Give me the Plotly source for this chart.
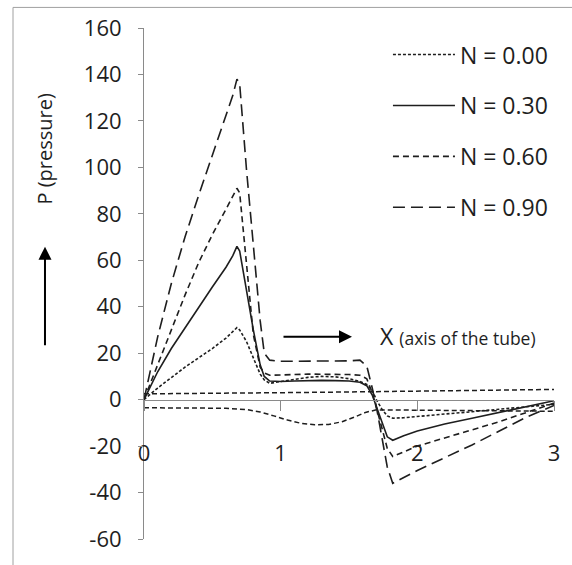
import plotly.graph_objects as go

# ---- data ----
x_pts = [0, 0.1, 0.2, 0.3, 0.4, 0.5, 0.6, 0.65, 0.68, 0.7, 0.75, 0.8, 0.85, 0.88, 0.92,
         1.0, 1.1, 1.2, 1.3, 1.4, 1.5, 1.58, 1.63, 1.67, 1.7, 1.74, 1.78, 1.82, 1.9, 2.0,
         2.2, 2.4, 2.6, 2.8, 3.0]

p_n000 = [0, 5, 9.5, 14, 18, 22, 26.5, 29.5, 31, 30, 25, 18, 11, 8.5, 7,
          7.8, 8.8, 9.6, 10, 9.8, 9, 7.8, 6.5, 4, 0, -4, -7, -8, -7.8, -7.2,
          -6.2, -5.2, -4.2, -3, -2]
p_n030 = [0, 12, 22, 31, 40, 48.5, 57, 62, 66, 64, 47, 30, 15, 10, 8,
          7.8, 8, 8.3, 8.3, 8.2, 8, 7.5, 6, 2, -3, -10, -16, -17.5, -15.5, -13.5,
          -10.5, -8, -5.5, -3, -0.5]
p_n060 = [0, 15, 30, 45, 59, 71, 82, 88, 91, 89, 57, 28, 14, 11.5, 10.5,
          10.5, 10.8, 11, 11, 11, 10.8, 10.5, 9, 3, -3, -12, -21, -24.5, -22.5, -20,
          -16.5, -13, -9.5, -5.5, -1.5]
p_n090 = [0, 27, 50, 70, 88, 105, 122, 131, 138, 136, 99, 67, 34, 20, 17,
          16.5, 16.5, 16.5, 16.5, 16.5, 16.7, 17, 14.5, 5, -3, -16, -29, -36, -33.5, -30.5,
          -25, -19.5, -13.5, -7.5, -2.5]

x_lineA = [0, 0.5, 1.0, 1.5, 2.0, 2.5, 3.0]
y_lineA = [2.5, 2.6, 3.0, 3.3, 3.6, 3.9, 4.4]

x_lineB = [0, 0.3, 0.6, 0.75, 0.85, 0.95, 1.05, 1.15, 1.25, 1.35, 1.45, 1.55, 1.62, 1.7, 2.0, 2.5, 3.0]
y_lineB = [-3.5, -3.5, -3.7, -4.3, -5.3, -7, -8.8, -10.2, -10.8, -10.7, -9.5, -7.3, -5.5, -4.4, -4.6, -4.8, -5]

legend_names = ["N = 0.00", "N = 0.30", "N = 0.60", "N = 0.90"]
x_ticks = [0, 1, 2, 3]
y_ticks = [-60, -40, -20, 0, 20, 40, 60, 80, 100, 120, 140, 160]
y_tick_text = ["-60", "-40", "-20", "0", "20", "40", "60", "80", "100", "120", "140", "160"]

FONT = "Open Sans"
INK = "#1e1e1e"
AXIS = "#8a8a8a"

fig = go.Figure()
series = [p_n000, p_n030, p_n060, p_n090]
dashes = ["3px,2px", "solid", "6px,4px", "12px,6px"]
for name, ys, d in zip(legend_names, series, dashes):
    fig.add_trace(go.Scatter(x=x_pts, y=ys, name=name, mode="lines",
                             line=dict(color=INK, width=1.6, dash=d),
                             legendgroup=name))
fig.add_trace(go.Scatter(x=x_lineA, y=y_lineA, mode="lines", showlegend=False,
                         line=dict(color=INK, width=1.5, dash="5px,3px")))
fig.add_trace(go.Scatter(x=x_lineB, y=y_lineB, mode="lines", showlegend=False,
                         line=dict(color=INK, width=1.5, dash="5px,3px")))

fig.update_layout(
    width=572, height=565,
    margin=dict(l=144, r=18, t=27, b=17),
    paper_bgcolor="white", plot_bgcolor="white",
    font=dict(family=FONT, color=INK),
    xaxis=dict(range=[0, 3], tickvals=x_ticks, showgrid=False, zeroline=False,
               showline=True, linecolor=AXIS, linewidth=1,
               ticks="outside", ticklen=10, tickcolor=AXIS,
               anchor="free", position=60 / 220,
               ticklabelstandoff=24,
               tickfont=dict(size=22, family=FONT, color=INK)),
    yaxis=dict(range=[-60, 160], tickvals=y_ticks, ticktext=y_tick_text,
               showgrid=False, zeroline=False,
               showline=True, linecolor=AXIS, linewidth=1,
               ticks="outside", ticklen=5, tickcolor=AXIS,
               ticklabelstandoff=12,
               tickfont=dict(size=22, family=FONT, color=INK)),
    legend=dict(x=0.595, y=0.99, xanchor="left", yanchor="top",
                font=dict(size=23, family=FONT, color=INK),
                tracegroupgap=18, itemwidth=62, bgcolor="rgba(0,0,0,0)",
                borderwidth=0),
)

# outer frame
fig.add_shape(type="rect", xref="paper", yref="paper",
              x0=-0.3195, x1=1.2, y0=-0.2, y1=1.0403,
              line=dict(color="#a0a0a0", width=1), layer="below")

# axis annotations
fig.add_annotation(xref="paper", yref="paper", x=-0.2415, y=0.764,
                   xanchor="center", yanchor="middle",
                   text="P (pressure)", textangle=-90, showarrow=False,
                   font=dict(size=20, family=FONT, color=INK))
fig.add_annotation(xref="paper", yref="paper", x=-0.2415, y=0.572,
                   text="", showarrow=True, ax=0, ay=100,
                   arrowhead=2, arrowsize=1.3, arrowwidth=2, arrowcolor="black")
fig.add_annotation(xref="paper", yref="paper", x=0.5073, y=0.396,
                   text="", showarrow=True, ax=-70, ay=0,
                   arrowhead=2, arrowsize=1.3, arrowwidth=2, arrowcolor="black")
fig.add_annotation(xref="paper", yref="paper", x=0.5707, y=0.397,
                   xanchor="left", yanchor="middle", showarrow=False,
                   text="X <span style='font-size:17.5px'>(axis of the tube)</span>",
                   font=dict(size=23, family=FONT, color=INK))

fig.write_html("out.html")
